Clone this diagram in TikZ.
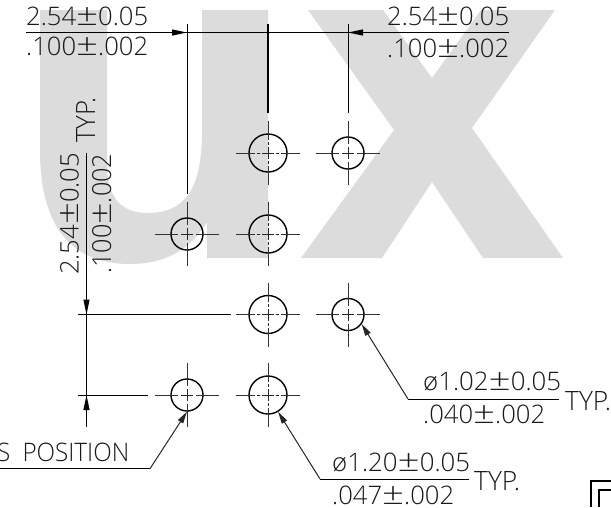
\documentclass[tikz,border=0pt]{standalone}
\usepackage{fontspec}
\usepackage{graphicx}
\setmainfont{Open Sans Light}
\usetikzlibrary{arrows.meta}
\definecolor{wm}{HTML}{DCDCDC}
\newcommand{\dt}[3]{\resizebox{#1pt}{#2pt}{#3}}
\newcommand{\pmm}{\smash{\scalebox{1.5}[1.2]{±}}}
\newcommand{\dia}{\smash{ø}}
\newcommand{\pmark}[4]{%
  \draw[cline] ([xshift=-32pt]#1.center) -- ([xshift=-#2pt]#1.center);
  \draw[cline] ([xshift=#2pt]#1.center) -- ([xshift=32pt]#1.center);
  \draw[cline] ([yshift=-32pt]#1.center) -- ([yshift=-#2pt]#1.center);
  \draw[cline] ([yshift=#2pt]#1.center) -- ([yshift=32pt]#1.center);
  \draw[ccross] ([xshift=-6pt]#1.center) -- ([xshift=6pt]#1.center);
  \draw[ccross] ([yshift=-6pt]#1.center) -- ([yshift=6pt]#1.center);
  \ifnum#3=1
  \draw[ccross] ([xshift=-11pt]#1.center) -- ([xshift=-8pt]#1.center);
  \draw[ccross] ([xshift=8pt]#1.center) -- ([xshift=11pt]#1.center);
  \draw[ccross] ([yshift=-11pt]#1.center) -- ([yshift=-8pt]#1.center);
  \draw[ccross] ([yshift=8pt]#1.center) -- ([yshift=11pt]#1.center);
  \fi
}
\tikzset{
  x=1pt,y=-1pt,
  bighole/.style={circle,draw=black,line width=1.4pt,minimum size=38pt,inner sep=0pt},
  smallhole/.style={circle,draw=black,line width=1.4pt,minimum size=32pt,inner sep=0pt},
  cline/.style={draw=black!80,line width=1pt},
  ccross/.style={draw=black!85,line width=0.8pt},
  dimline/.style={draw=black,line width=1pt},
  tip/.style={-{Triangle[length=15pt,width=6pt]},draw=black,line width=1pt},
  leadertip/.style={-{Triangle[length=12pt,width=6pt]},draw=black!85,line width=1pt},
  dimtext/.style={inner sep=0pt,anchor=base west,text=black!90},
  wmark/.style={fill=wm,draw=none},
}
\begin{document}
\begin{tikzpicture}
\useasboundingbox (0,0) rectangle (611,507);
% watermark
\fill[wmark] (40,10) -- (107,10) -- (107,165)
  .. controls (107,198) and (122,213) .. (147,213)
  .. controls (185,213) and (202,190) .. (202,130)
  -- (202,10) -- (268,10) -- (268,258) -- (207,258) -- (207,222)
  .. controls (190,250) and (165,264) .. (130,264)
  .. controls (70,264) and (40,225) .. (40,150) -- cycle;
\fill[wmark] (308,10) -- (383,10) -- (432,78) -- (481,10) -- (555,10)
  -- (472,128) -- (563,258) -- (483,258) -- (432,182) -- (382,258) -- (301,258)
  -- (394,130) -- cycle;
% holes
\node[bighole] (a1) at (268,153) {};
\node[smallhole] (a2) at (348,153) {};
\node[smallhole] (b0) at (187,234) {};
\node[bighole] (b1) at (268,234) {};
\node[bighole] (c1) at (268,314.5) {};
\node[smallhole] (c2) at (348,314.5) {};
\node[smallhole] (d0) at (187,395) {};
\node[bighole] (d1) at (268,395) {};
\pmark{a1}{13}{1}{}\pmark{b1}{13}{1}{}\pmark{c1}{13}{1}{}\pmark{d1}{13}{1}{}
\pmark{a2}{9}{0}{}\pmark{b0}{9}{0}{}\pmark{c2}{9}{0}{}\pmark{d0}{9}{0}{}
% named free ends
\coordinate (topL) at (26,32.5);
\coordinate (topR) at (509,32.5);
\coordinate (t0) at (187,32.5);
\coordinate (t1) at (268,32.5);
\coordinate (t2) at (348,32.5);
\coordinate (e0a) at (187,24);
\coordinate (e0b) at (187,194);
\coordinate (e1a) at (268,24);
\coordinate (e1b) at (268,113);
\coordinate (e2a) at (348,24);
\coordinate (e2b) at (348,113);
\coordinate (vtop) at (86.5,153);
\coordinate (vmid) at (86.5,314.5);
\coordinate (vlow) at (86.5,395);
\coordinate (vbot) at (86.5,427);
\coordinate (hc0) at (78,314.5);
\coordinate (hc1) at (231,314.5);
\coordinate (hd0) at (78,395);
\coordinate (hd1) at (148,395);
\coordinate (ln0) at (0,468.7);
\coordinate (ln1) at (150,468.7);
\coordinate (lb0) at (469,479);
\coordinate (lb1) at (320,479);
\coordinate (ls0) at (559,399);
\coordinate (ls1) at (408,399);
% dimension and extension lines
\draw[dimline] (topL) -- (topR);
\draw[tip] (t0)++(-15,0) -- (t0);
\draw[tip] (t2)++(17,0) -- (t2);
\fill (t1) circle (1.8);
\draw[dimline] (e0a) -- (e0b);
\draw[dimline,line width=1.5pt] (e1a) -- (e1b);
\draw[dimline] (e2a) -- (e2b);
\draw[dimline] (vtop) -- (vbot);
\draw[tip] (vmid)++(0,-16) -- (vmid);
\draw[tip] (vlow)++(0,16) -- (vlow);
\draw[dimline] (hc0) -- (hc1);
\draw[dimline] (hd0) -- (hd1);
% leaders
\draw[dimline] (ln0) -- (ln1);
\draw[leadertip] (ln1) -- (d0.south);
\draw[dimline] (lb0) -- (lb1);
\draw[leadertip] (lb1) -- (d1.-59);
\draw[dimline] (ls0) -- (ls1);
\draw[leadertip] (ls1) -- (c2.-35);
% texts
\node[dimtext] (t1a) at (26,25) {\dt{122}{18.5}{2.54\pmm0.05}};
\node[dimtext] (t1b) at (26,55) {\dt{122}{18.5}{.100\pmm.002}};
\node[dimtext] (t2a) at (387,25) {\dt{122}{18.5}{2.54\pmm0.05}};
\node[dimtext] (t2b) at (387,57) {\dt{122}{18.5}{.100\pmm.002}};
\node[dimtext,rotate=90] (t3a) at (78.5,275) {\dt{122}{18.5}{2.54\pmm0.05}};
\node[dimtext,rotate=90] (t3b) at (111,274) {\dt{120}{19}{.100\pmm.002}};
\node[dimtext,rotate=90] (t3c) at (95,143) {\dt{45}{19}{TYP.}};
\node[dimtext] (t4) at (-3,461) {\dt{132}{18.5}{S\hspace{0.5em}POSITION}};
\node[dimtext] (t5a) at (332,471) {\dt{138}{18.5}{\dia1.20\pmm0.05}};
\node[dimtext] (t5b) at (332,504.5) {\dt{122}{18.5}{.047\pmm.002}};
\node[dimtext] (t5c) at (474,490) {\dt{46}{19}{TYP.}};
\node[dimtext] (t6a) at (423,390) {\dt{138}{18.5}{\dia1.02\pmm0.05}};
\node[dimtext] (t6b) at (423,423) {\dt{122}{18.5}{.040\pmm.002}};
\node[dimtext] (t6c) at (565,410) {\dt{46}{19}{TYP.}};
% frame corner
\draw[line width=1.2pt] (591,507) -- (591,481) -- (611,481);
\draw[line width=1.2pt] (599,507) -- (599,490) -- (611,490);
\end{tikzpicture}
\end{document}
